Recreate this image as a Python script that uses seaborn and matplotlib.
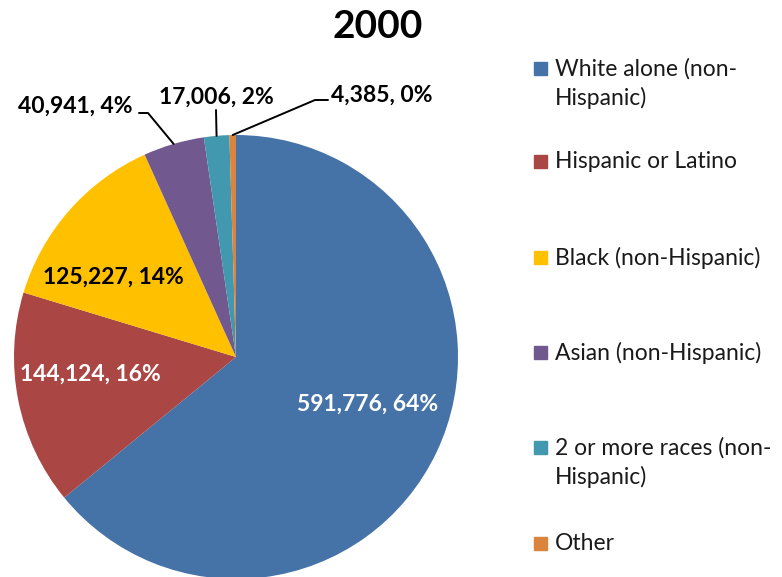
import matplotlib
matplotlib.use("Agg")
import matplotlib.pyplot as plt
import seaborn as sns
import numpy as np
from matplotlib.patches import Rectangle

categories = ["White alone (non-Hispanic)", "Hispanic or Latino", "Black (non-Hispanic)",
              "Asian (non-Hispanic)", "2 or more races (non-Hispanic)", "Other"]
legend_labels = ["White alone (non-\nHispanic)", "Hispanic or Latino", "Black (non-Hispanic)",
                 "Asian (non-Hispanic)", "2 or more races (non-\nHispanic)", "Other"]
values = [591776, 144124, 125227, 40941, 17006, 4385]
percent_labels = ["64%", "16%", "14%", "4%", "2%", "0%"]
title = "2000"

colors = sns.color_palette(["#4572A7", "#AA4643", "#FFC000", "#71588F", "#4198AF", "#DB843D"])

sns.set_theme(style="white")
plt.rcParams["font.family"] = ["Lato", "DejaVu Sans"]

W, H = 782, 577
fig = plt.figure(figsize=(W / 100, H / 100), dpi=100)
fig.patch.set_facecolor("white")

cx, cy, R = 236, 357, 222
ax = fig.add_axes([(cx - R) / W, (H - cy - R) / H, 2 * R / W, 2 * R / H])
ax.axis("off")

wedges, _ = ax.pie(values, colors=colors, startangle=90, counterclock=False,
                   radius=1, wedgeprops=dict(linewidth=0))
ax.set_xlim(-1, 1)
ax.set_ylim(-1, 1)
ax.set_aspect("equal")
for w in wedges:
    w.set_clip_on(False)

def px(x, y):
    return ((x - cx) / R, (cy - y) / R)

# label placements (pixel layout)
label_pos = [(368, 404), (90, 374), (113, 277), (75, 106), (216, 97), (382, 95)]
label_col = ["white", "white", "black", "black", "black", "black"]
for i, (v, p) in enumerate(zip(values, percent_labels)):
    tx, ty = px(*label_pos[i])
    ax.text(tx, ty, f"{v:,}, {p}", ha="center", va="center", fontsize=16.5,
            fontweight="bold", color=label_col[i], clip_on=False)

# leader lines for small slices
def edge_point(w):
    a = np.deg2rad((w.theta1 + w.theta2) / 2)
    return np.cos(a), np.sin(a)

leaders = {3: [(148, 113), (139, 113)], 4: [(216, 110)], 5: [(315, 100), (328, 100)]}
for i, pts in leaders.items():
    ex, ey = edge_point(wedges[i])
    xs = [ex] + [px(*p)[0] for p in pts]
    ys = [ey] + [px(*p)[1] for p in pts]
    ax.plot(xs, ys, color="black", lw=1.4, clip_on=False)

fig.text(378 / W, 1 - 27 / H, title, ha="center", va="center", fontsize=28,
         fontweight="bold", color="black")

# legend
legend_y = [68, 161, 257, 352, 447, 543]
for lab, col, y in zip(legend_labels, colors, legend_y):
    fig.patches.append(Rectangle((534 / W, 1 - (y + 7) / H), 13 / W, 13 / H,
                                 transform=fig.transFigure, color=col))
    fig.text(555 / W, 1 - (y - 10) / H, lab, ha="left", va="top", fontsize=16.5,
             color="#1a1a1a", linespacing=1.4)

fig.savefig("out.png", dpi=100)
